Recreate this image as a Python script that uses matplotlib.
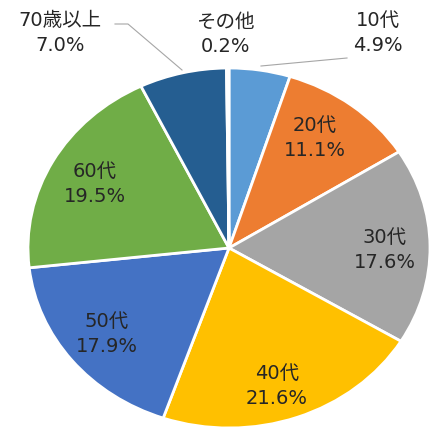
import matplotlib
matplotlib.use("Agg")
import matplotlib.pyplot as plt

plt.rcParams['font.family'] = ['DejaVu Sans', 'Noto Sans CJK JP']

categories = ["10代", "20代", "30代", "40代", "50代", "60代", "70歳以上", "その他"]
values = [4.9, 11.1, 17.6, 21.6, 17.9, 19.5, 7.0, 0.2]
colors = ["#5B9BD5", "#ED7D31", "#A5A5A5", "#FFC000", "#4472C4", "#70AD47", "#255E91", "#9E480E"]

W, H = 433, 432
cx, cy, rx, ry = 229, 248, 201, 180

# label centre positions in pixels (layout)
label_pos = [(378, 33), (315, 138), (385, 250), (277, 386), (107, 334), (95, 184), (60, 33), (225, 34)]

fig = plt.figure(figsize=(W / 100, H / 100), dpi=100)
ax = fig.add_axes([0, 0, 1, 1])
ax.pie(values, colors=colors, startangle=90, counterclock=False,
       wedgeprops=dict(edgecolor="white", linewidth=2.0))
ax.set_aspect('auto')
ax.set_xlim(-cx / rx, (W - cx) / rx)
ax.set_ylim(-(H - cy) / ry, cy / ry)
ax.axis('off')

def fx(px):
    return px / W

def fy(py):
    return 1 - py / H

for cat, v, (px, py) in zip(categories, values, label_pos):
    fig.text(fx(px), fy(py), f"{cat}\n{v:.1f}%", ha='center', va='center',
             fontsize=14, color='#262626', linespacing=1.35)

# leader lines
fig.add_artist(plt.Line2D([fx(261), fx(347)], [fy(66), fy(58)], color='#A6A6A6', lw=0.8))
fig.add_artist(plt.Line2D([fx(115), fx(128), fx(182)], [fy(24), fy(24), fy(70)], color='#A6A6A6', lw=0.8))

fig.savefig("out.png", dpi=100)
